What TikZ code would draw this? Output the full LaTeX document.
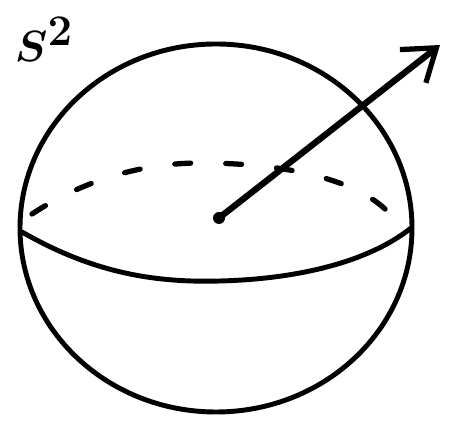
\documentclass[tikz,border=0pt]{standalone}
\usepackage{tikz}
\usetikzlibrary{positioning,arrows.meta}
\tikzset{
  rim/.style={line width=2.8pt,line cap=round},
  backline/.style={line width=3pt,dash pattern=on 9pt off 20pt,line cap=round},
  arr/.style={-{Straight Barb[length=17pt,width=24pt,line width=3pt]},line width=3.6pt,line cap=round},
  lbl/.style={font=\fontsize{48}{48}\selectfont\boldmath,inner sep=0pt},
}
\begin{document}
\begin{tikzpicture}[x=0.02cm,y=0.02cm]
\useasboundingbox (0,0) rectangle (449,421);
% the sphere
\draw[rim] (216,193) ellipse [x radius=196,y radius=184];
% equator, front and back
\coordinate (eqL) at (22,189);
\coordinate (eqR) at (411,193);
\draw[rim] (eqL) .. controls (90,150) and (150,138) .. (220,140)
  .. controls (300,142) and (370,160) .. (eqR);
\draw[backline] (32,207) .. controls (90,245) and (150,258) .. (200,258)
  .. controls (290,258) and (360,240) .. (390,207);
% centre and radius vector
\fill (219,203) circle (6);
\coordinate (c) at (219,203);
\coordinate (tip) at (440,376);
\draw[arr] (c) -- (tip);
\node[lbl] (s2) at (44,382) {$S^2$};
\end{tikzpicture}
\end{document}
